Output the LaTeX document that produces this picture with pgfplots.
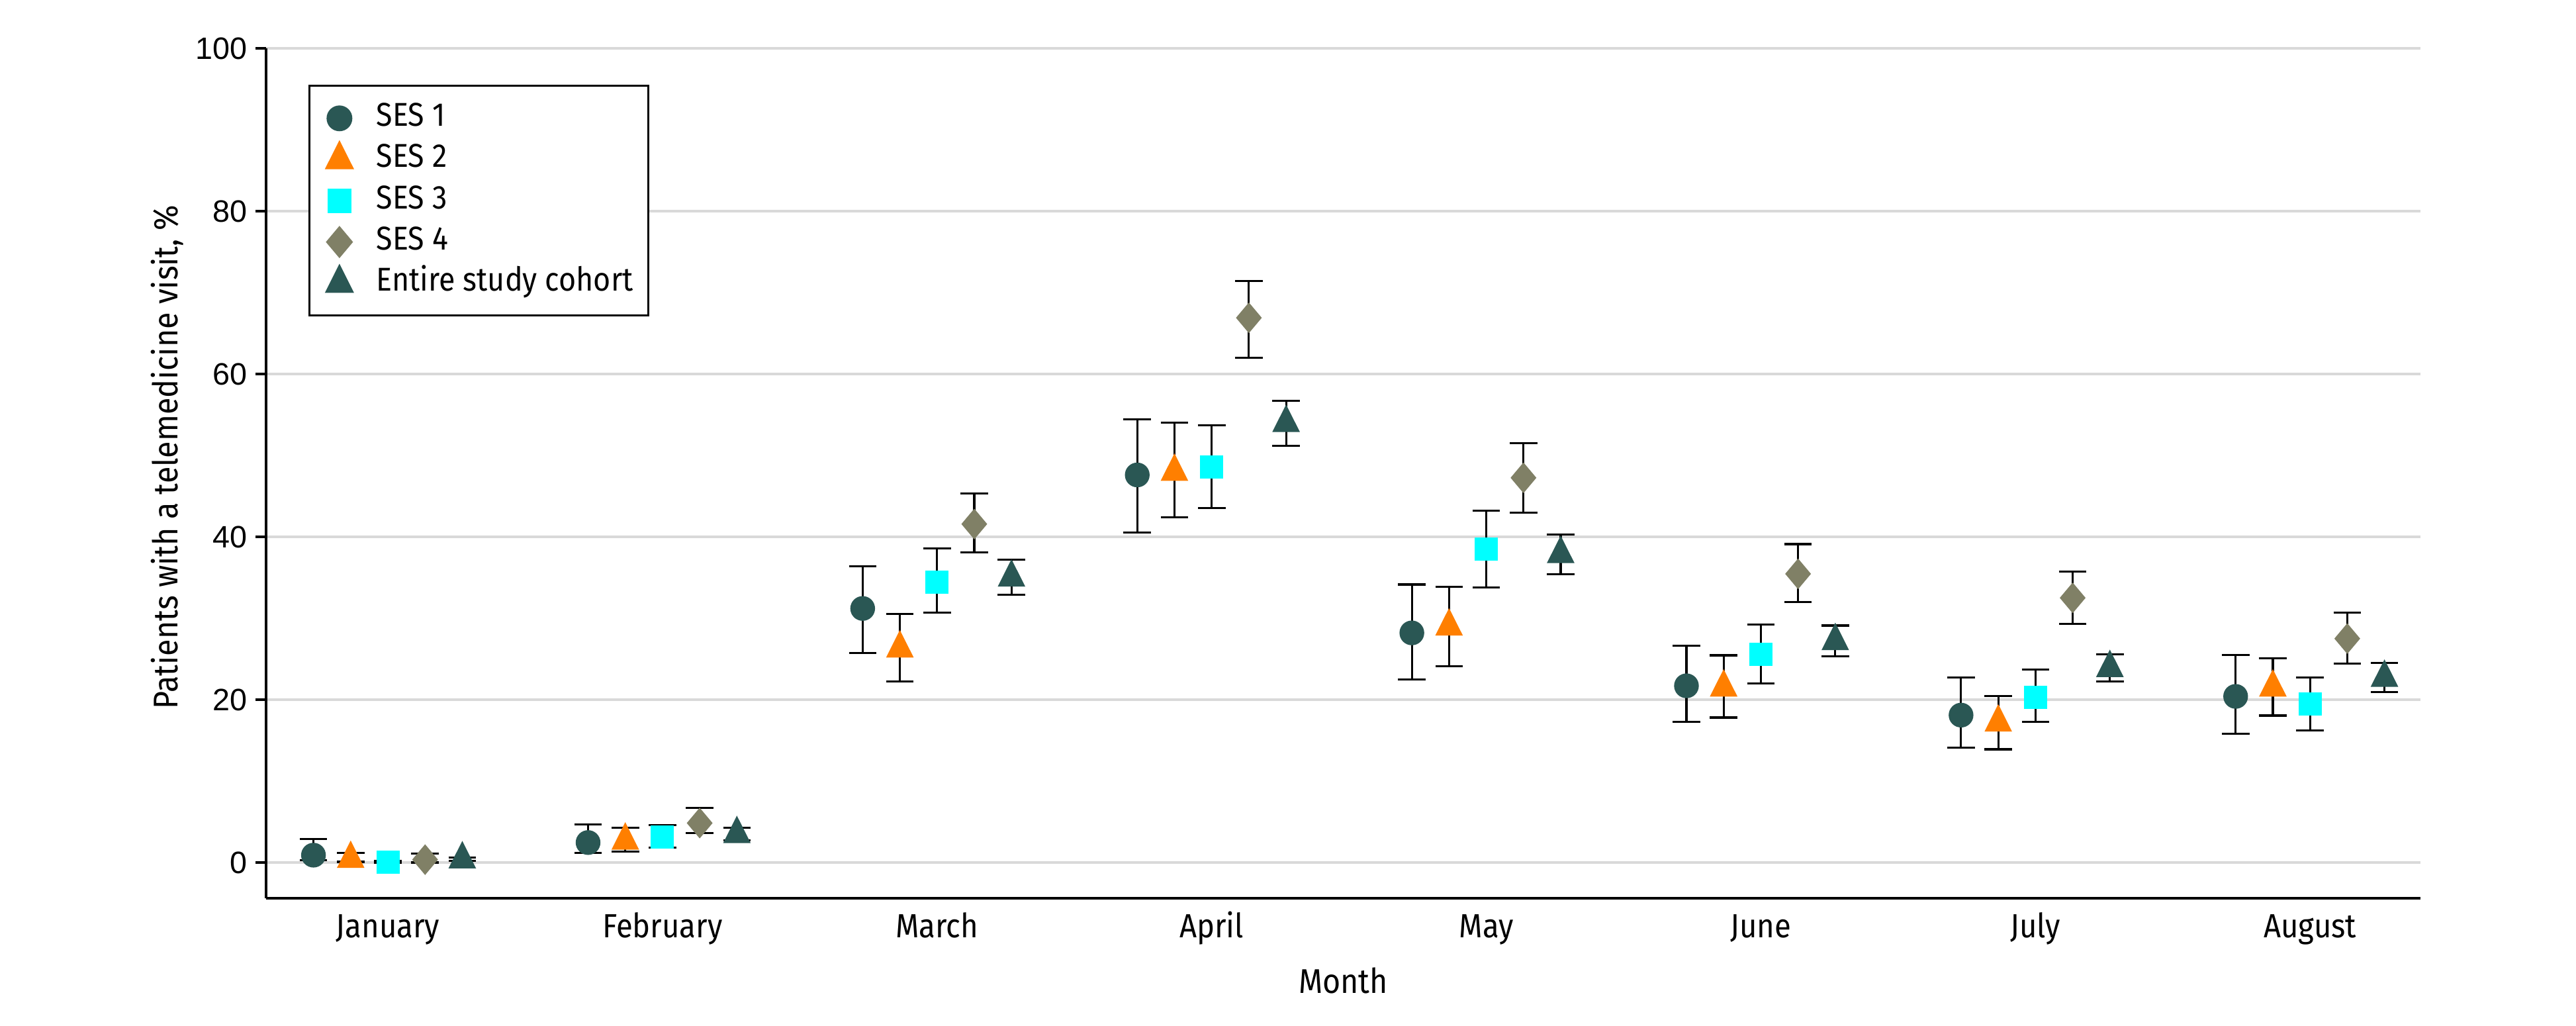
\documentclass[border=0pt]{standalone}
\usepackage{fontspec}
\setmainfont{Fira Sans}[FakeStretch=0.9]
\newfontfamily\tickfont{Liberation Sans}
\usepackage{pgfplots}
\pgfplotsset{compat=1.18}
\definecolor{sesone}{HTML}{2A5754}
\definecolor{sestwo}{HTML}{FF7F00}
\definecolor{sesthree}{HTML}{00FFFF}
\definecolor{sesfour}{HTML}{808066}
\definecolor{gridc}{HTML}{D9D9D9}
\pgfplotsset{mylegimg/.style={legend image code/.code={\path[draw=none,fill=none] (0pt,0pt) -- (20pt,0pt); \path[##1,draw=none,fill=none] plot[only marks,mark repeat=2,mark phase=2] coordinates {(0pt,0pt)(7.6pt,0pt)(20pt,0pt)};}}}
\begin{document}
\begin{tikzpicture}
\path[use as bounding box] (0,0) rectangle (1000pt,398.25pt);
\begin{axis}[
  at={(103.3pt,49.59pt)}, anchor=south west,
  scale only axis, width=836.3pt, height=329.9pt,
  xmin=-0.4435, xmax=7.402, ymin=-4.39, ymax=100,
  axis x line*=bottom, axis y line*=left,
  axis line style={line width=0.8pt, black},
  xtick={0,1,2,3,4,5,6,7},
  xticklabels={January,February,March,April,May,June,July,August},
  xtick style={draw=none},
  ytick={0,20,40,60,80,100},
  ytick style={line width=0.8pt, black},
  tick align=outside, major tick length=4.1pt,
  ymajorgrids, major grid style={gridc, line width=1pt},
  /pgf/number format/assume math mode=true,
  yticklabel style={font=\tickfont\fontsize{12}{12}\selectfont, anchor=east, inner sep=0pt, xshift=-3pt},
  xticklabel style={font=\fontsize{13}{13}\selectfont, anchor=base, inner sep=0pt, yshift=-11.2pt},
  xlabel={Month},
  ylabel={Patients with a telemedicine visit, \%},
  every axis x label/.style={at={(axis description cs:0.5,-0.0966)}, anchor=center, font=\fontsize{13.3}{13.3}\selectfont},
  every axis y label/.style={at={(axis description cs:-0.046,0.519)}, rotate=90, anchor=center, font=\fontsize{13.3}{13.3}\selectfont},
  clip=false,
  legend cell align=left,
  legend style={at={(axis description cs:0.0197,0.957)}, anchor=north west,
    draw=black, line width=0.8pt, inner xsep=4pt, inner ysep=4.6pt,
    font=\fontsize{12.8}{12.8}\selectfont,
    nodes={inner sep=2pt, text height=9pt, text depth=3pt}, row sep=0pt},
  error bars/y dir=both, error bars/y explicit,
  error bars/error bar style={black, line width=0.8pt},
  error bars/error mark options={rotate=90, mark size=5.35pt, line width=0.8pt, black},
]
% SES 1
\addplot[only marks, mark=*, color=sesone, mark size=4.6pt, mylegimg] coordinates {
 (-0.271,0.9) += (0,2.0) -= (0,0.63)
 (0.729,2.45) += (0,2.2) -= (0,1.28)
 (1.729,31.2) += (0,5.2) -= (0,5.45)
 (2.729,47.6) += (0,6.8) -= (0,7.1)
 (3.729,28.2) += (0,5.95) -= (0,5.7)
 (4.729,21.7) += (0,4.9) -= (0,4.45)
 (5.729,18.1) += (0,4.6) -= (0,4.0)
 (6.729,20.4) += (0,5.1) -= (0,4.6)
};
\addlegendentry{SES 1}
% SES 2
\addplot[only marks, mark=triangle*, color=sestwo, mark size=5.8pt, mark options={yscale=1.15}, mylegimg] coordinates {
 (-0.1355,0.45) += (0,0.72) -= (0,0.37)
 (0.8645,2.7) += (0,1.54) -= (0,1.34)
 (1.8645,26.3) += (0,4.26) -= (0,4.1)
 (2.8645,48.0) += (0,6.0) -= (0,5.6)
 (3.8645,29.0) += (0,4.85) -= (0,4.9)
 (4.8645,21.5) += (0,3.95) -= (0,3.7)
 (5.8645,17.2) += (0,3.26) -= (0,3.3)
 (6.8645,21.5) += (0,3.6) -= (0,3.45)
};
\addlegendentry{SES 2}
% SES 3
\addplot[only marks, mark=square*, color=sesthree, mark size=4.3pt, mylegimg] coordinates {
 (0,0.05) += (0,0.15) -= (0,0.05)
 (1,3.15) += (0,1.45) -= (0,1.35)
 (2,34.4) += (0,4.16) -= (0,3.7)
 (3,48.6) += (0,5.1) -= (0,5.1)
 (4,38.5) += (0,4.7) -= (0,4.7)
 (5,25.6) += (0,3.65) -= (0,3.64)
 (6,20.26) += (0,3.44) -= (0,3.0)
 (7,19.5) += (0,3.2) -= (0,3.3)
};
\addlegendentry{SES 3}
% SES 4
\addplot[only marks, mark=diamond*, color=sesfour, mark size=5.65pt, mark options={xscale=1.12}, mylegimg] coordinates {
 (0.1355,0.35) += (0,0.74) -= (0,0.35)
 (1.1355,4.84) += (0,1.9) -= (0,1.24)
 (2.1355,41.57) += (0,3.73) -= (0,3.47)
 (3.1355,66.9) += (0,4.5) -= (0,4.9)
 (4.1355,47.25) += (0,4.25) -= (0,4.3)
 (5.1355,35.45) += (0,3.65) -= (0,3.45)
 (6.1355,32.5) += (0,3.2) -= (0,3.2)
 (7.1355,27.5) += (0,3.2) -= (0,3.1)
};
\addlegendentry{SES 4}
% Entire study cohort
\addplot[only marks, mark=triangle*, color=sesone, mark size=5.8pt, mark options={yscale=1.15}, mylegimg] coordinates {
 (0.271,0.4) += (0,0.2) -= (0,0.2)
 (1.271,3.5) += (0,0.8) -= (0,0.8)
 (2.271,35.0) += (0,2.2) -= (0,2.1)
 (3.271,54.0) += (0,2.7) -= (0,2.8)
 (4.271,37.9) += (0,2.4) -= (0,2.5)
 (5.271,27.2) += (0,1.9) -= (0,1.9)
 (6.271,23.9) += (0,1.7) -= (0,1.7)
 (7.271,22.7) += (0,1.8) -= (0,1.8)
};
\addlegendentry{Entire study cohort}
\end{axis}
\end{tikzpicture}
\end{document}
